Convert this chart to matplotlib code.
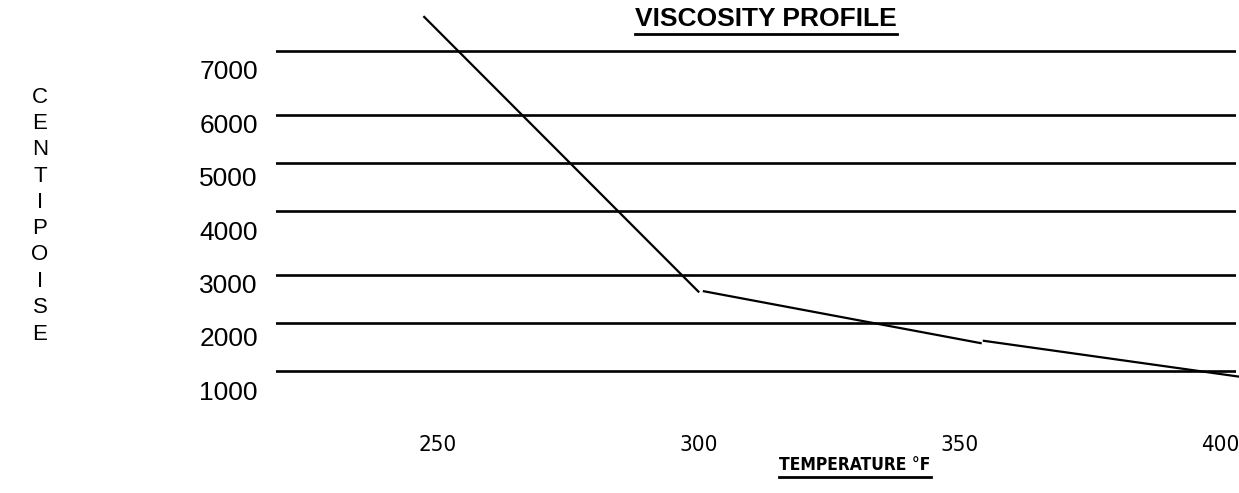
import matplotlib
matplotlib.use("Agg")
import matplotlib.pyplot as plt
from matplotlib import font_manager
from matplotlib.font_manager import FontProperties
from matplotlib.lines import Line2D

# ---- data ----
seg1_temp = [247.2, 300.1]
seg1_cp = [8010, 2830]
seg2_temp = [300.8, 354.3]
seg2_cp = [2855, 1875]
seg3_temp = [354.5, 403.7]
seg3_cp = [1925, 1250]

x_ticks = [250, 300, 350, 400]
y_ticks = [1000, 2000, 3000, 4000, 5000, 6000, 7000]
grid_levels = [7350, 6150, 5250, 4350, 3150, 2250, 1350]

title = "VISCOSITY PROFILE"
xlabel = "TEMPERATURE °F"
ylabel_letters = list("CENTIPOISE")

flist = font_manager.fontManager.ttflist
avail = {f.name for f in flist}
base = "Liberation Sans" if "Liberation Sans" in avail else "DejaVu Sans"


def find_narrow(bold):
    want_w = 700 if bold else 400
    cands = []
    for f in flist:
        nm = f.name.lower()
        fn = f.fname.lower()
        w = f.weight if isinstance(f.weight, int) else (700 if "bold" in str(f.weight) else 400)
        if ("narrow" in nm or "condensed" in nm or "narrow" in fn or "condensed" in fn
                or str(f.stretch) in ("condensed", "semi-condensed", "extra-condensed")):
            if "italic" in fn or "oblique" in fn or f.style != "normal":
                continue
            score = abs(w - want_w)
            pri = 0 if "liberation" in nm else (1 if "dejavu" in nm else 2)
            cands.append((pri, score, f.fname))
    if cands:
        cands.sort()
        return FontProperties(fname=cands[0][2]), ("liberation" in cands[0][2].lower())
    return None, False


nar_reg, is_lib = find_narrow(False)
nar_bold, is_lib_b = find_narrow(True)

W, H = 1239, 493
fig = plt.figure(figsize=(W / 100, H / 100), dpi=100)

left_px, right_px, top_px, bot_px = 276, 1236, 10, 400
ax = fig.add_axes([left_px / W, 1 - bot_px / H, (right_px - left_px) / W, (bot_px - top_px) / H])
ax.set_xlim(218.92, 403.08)
ax.set_ylim(812.5, 8125)
for s in ax.spines.values():
    s.set_visible(False)
ax.patch.set_alpha(0)

for g in grid_levels:
    ax.axhline(g, color="black", lw=1.9, zorder=1)

for xs, ys in [(seg1_temp, seg1_cp), (seg2_temp, seg2_cp), (seg3_temp, seg3_cp)]:
    ax.plot(xs, ys, color="black", lw=1.6, clip_on=False, zorder=2, solid_capstyle="butt")

ax.set_yticks(y_ticks)
ax.set_yticklabels([str(v) for v in y_ticks], fontsize=19, family=base)
ax.set_xticks(x_ticks)
if nar_reg is not None:
    fp = nar_reg.copy()
    fp.set_size(18 if is_lib else 16)
    ax.set_xticklabels([str(v) for v in x_ticks], fontproperties=fp)
else:
    ax.set_xticklabels([str(v) for v in x_ticks], fontsize=14, family=base)
ax.tick_params(axis="y", length=0, pad=13)
ax.tick_params(axis="x", length=0, pad=25)

t = fig.text(766 / W, 1 - 19 / H, title, ha="center", va="center", fontsize=19,
             fontweight="bold", family=base)
if nar_bold is not None:
    fpb = nar_bold.copy()
    fpb.set_size(14 if is_lib_b else 12.5)
    xl = fig.text(855 / W, 1 - 465 / H, xlabel, ha="center", va="center", fontproperties=fpb)
else:
    xl = fig.text(855 / W, 1 - 465 / H, xlabel, ha="center", va="center", fontsize=11.5,
                  fontweight="bold", family=base)

n = len(ylabel_letters)
y0, y1 = 97, 334
for i, ch in enumerate(ylabel_letters):
    yy = y0 + (y1 - y0) * i / (n - 1)
    fig.text(40 / W, 1 - yy / H, ch, ha="center", va="center", fontsize=16, family=base)

fig.canvas.draw()
r = fig.canvas.get_renderer()
for txt, gap in ((t, 3), (xl, 3)):
    bb = txt.get_window_extent(r)
    yline = (bb.y0 - gap) / H
    fig.add_artist(Line2D([bb.x0 / W, bb.x1 / W], [yline, yline], transform=fig.transFigure,
                          color="black", lw=2.0))

fig.savefig("out.png", dpi=100)
